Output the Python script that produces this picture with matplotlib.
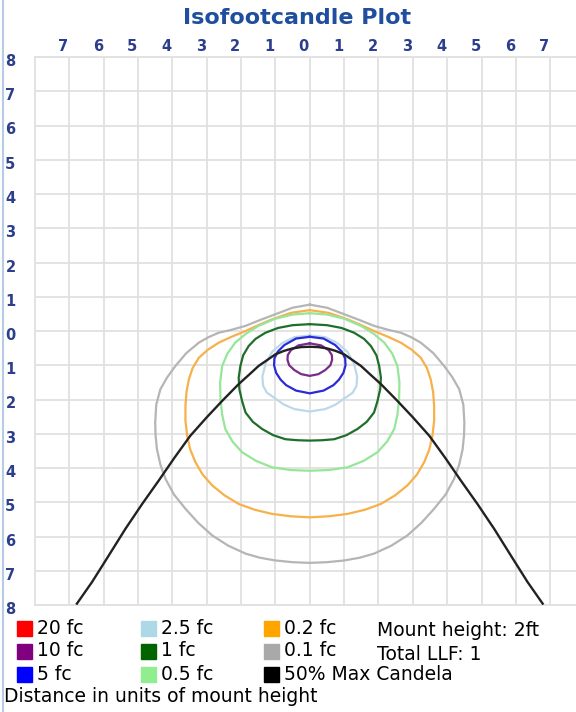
import numpy as np
import matplotlib
matplotlib.use("Agg")
import matplotlib.pyplot as plt
from matplotlib.transforms import ScaledTranslation
from matplotlib.patches import Rectangle
from matplotlib.lines import Line2D

# left half of each isofootcandle contour: (x, distance below luminaire), top centre -> bottom centre
gray_x = [0, -0.5, -1.0, -1.45, -1.87, -2.3, -2.65, -2.95, -3.23, -3.6, -3.91, -4.15, -4.35, -4.47, -4.50,
          -4.49, -4.45, -4.35, -4.20, -3.95, -3.62, -3.25, -2.84, -2.37, -1.87, -1.45, -1.0, -0.5, 0]
gray_d = [-0.77, -0.68, -0.49, -0.32, -0.15, -0.03, 0.05, 0.18, 0.34, 0.65, 1.02, 1.35, 1.70, 2.15, 2.67,
          3.05, 3.45, 3.9, 4.32, 4.78, 5.19, 5.60, 5.97, 6.27, 6.50, 6.62, 6.70, 6.75, 6.77]

orange_x = [0, -0.55, -1.10, -1.5, -1.87, -2.28, -2.65, -2.97, -3.23, -3.41, -3.52, -3.59, -3.62,
            -3.62, -3.57, -3.48, -3.33, -3.12, -2.84, -2.48, -2.07, -1.60, -1.10, -0.55, 0]
orange_d = [-0.61, -0.53, -0.34, -0.17, 0.0, 0.17, 0.34, 0.55, 0.78, 1.08, 1.41, 1.78, 2.18,
            2.62, 3.06, 3.46, 3.83, 4.19, 4.51, 4.80, 5.05, 5.22, 5.34, 5.41, 5.44]

lgreen_x = [0, -0.5, -1.0, -1.49, -1.86, -2.17, -2.40, -2.55, -2.61, -2.60, -2.55, -2.46, -2.25,
            -1.97, -1.57, -1.10, -0.55, 0]
lgreen_d = [-0.52, -0.48, -0.36, -0.15, 0.08, 0.34, 0.66, 1.02, 1.50, 1.99, 2.45, 2.86, 3.23,
            3.54, 3.79, 3.98, 4.06, 4.08]

dgreen_x = [0, -0.5, -0.92, -1.29, -1.58, -1.78, -1.94, -2.02, -2.07, -2.05, -1.97, -1.87, -1.66,
            -1.39, -1.07, -0.71, -0.35, 0]
dgreen_d = [-0.2, -0.17, -0.09, 0.05, 0.23, 0.44, 0.71, 1.02, 1.36, 1.70, 2.05, 2.38, 2.65,
            2.86, 3.04, 3.16, 3.19, 3.20]

lblue_x = [0, -0.45, -0.80, -1.09, -1.28, -1.38, -1.36, -1.25, -0.99, -0.75, -0.45, 0]
lblue_d = [0.13, 0.18, 0.35, 0.60, 0.93, 1.33, 1.60, 1.80, 1.98, 2.15, 2.28, 2.35]

blue_x = [0, -0.4, -0.74, -0.93, -1.03, -1.04, -0.98, -0.85, -0.69, -0.40, 0]
blue_d = [0.17, 0.22, 0.41, 0.60, 0.80, 1.0, 1.22, 1.42, 1.58, 1.74, 1.82]

purple_x = [0, -0.33, -0.55, -0.64, -0.65, -0.60, -0.45, -0.25, 0]
purple_d = [0.36, 0.42, 0.56, 0.70, 0.84, 1.00, 1.14, 1.26, 1.31]

# 50% max candela line, left half
cand_x = [-6.78, -6.34, -5.85, -5.37, -4.88, -4.40, -3.94, -3.48, -3.0, -2.55, -2.07, -1.75, -1.49,
          -1.2, -1.0, -0.75, -0.51, -0.25, 0]
cand_d = [7.96, 7.33, 6.55, 5.78, 5.05, 4.37, 3.70, 3.06, 2.52, 2.04, 1.55, 1.26, 1.02,
          0.82, 0.68, 0.58, 0.51, 0.47, 0.46]

legend_labels = ["20 fc", "10 fc", "5 fc", "2.5 fc", "1 fc", "0.5 fc", "0.2 fc", "0.1 fc", "50% Max Candela"]
legend_colors = ["#ff0000", "#800080", "#0000ff", "#add8e6", "#006400", "#90ee90", "#ffa500", "#a9a9a9", "#000000"]
info_lines = ["Mount height: 2ft", "Total LLF: 1"]

ticks = list(range(-8, 9))

W, H = 576, 712
fig = plt.figure(figsize=(W / 100, H / 100), dpi=100)
ax = fig.add_axes([35 / W, 1 - 605 / H, 541 / W, 548 / H])


def closed(x, d):
    x = np.array(x)
    d = np.array(d)
    return np.concatenate([x, -x[::-1][1:]]), np.concatenate([d, d[::-1][1:]])


contours = [
    (gray_x, gray_d, "#b5b5b5"),
    (orange_x, orange_d, "#f7b04a"),
    (lgreen_x, lgreen_d, "#96e69a"),
    (dgreen_x, dgreen_d, "#1f6e2a"),
    (lblue_x, lblue_d, "#bcd9ea"),
    (blue_x, blue_d, "#2a2ad8"),
    (purple_x, purple_d, "#7a2a8a"),
]
for cx, cd, col in contours:
    xx, dd = closed(cx, cd)
    ax.plot(xx, dd, color=col, lw=1.6, solid_joinstyle="round")

bx = np.concatenate([cand_x, -np.array(cand_x[::-1][1:])])
bd = np.concatenate([cand_d, cand_d[::-1][1:]])
ax.plot(bx, bd, color="#222222", lw=1.7, zorder=5)

ax.set_xlim(-8, 7.75)
ax.set_ylim(8, -8)
ax.set_xticks(ticks[1:-1])
ax.set_yticks(ticks)
ax.set_xticklabels([str(abs(t)) for t in ticks[1:-1]])
ax.set_yticklabels([str(abs(t)) for t in ticks])
ax.xaxis.tick_top()
ax.tick_params(length=0, labelsize=10.5, labelcolor="#2c3e8c")
ax.tick_params(axis="x", pad=2)
ax.tick_params(axis="y", pad=14)
for lbl in ax.get_xticklabels() + ax.get_yticklabels():
    lbl.set_fontweight("bold")
for lbl in ax.get_xticklabels():
    lbl.set_transform(lbl.get_transform() + ScaledTranslation(-6 / 100, 0, fig.dpi_scale_trans))
for lbl in ax.get_yticklabels():
    lbl.set_transform(lbl.get_transform() + ScaledTranslation(0, -3 / 100, fig.dpi_scale_trans))
ax.grid(True, color="#e0e0e0", lw=1.3)
ax.set_axisbelow(True)
for s in ax.spines.values():
    s.set_color("#e0e0e0")
    s.set_linewidth(1.3)
ax.spines["right"].set_visible(False)

fig.text(297 / W, 1 - 18 / H, "Isofootcandle Plot", ha="center", va="center",
         fontsize=16, fontweight="bold", color="#1f4e9e")

# window border on the left
fig.add_artist(Line2D([3 / W, 3 / W], [0, 1], color="#b8cbe6", lw=1.5))

# legend
col_x = [17, 141, 264]
row_y = [628, 651, 674]
for i, (lab, col) in enumerate(zip(legend_labels, legend_colors)):
    cx = col_x[i // 3]
    ry = row_y[i % 3]
    fig.add_artist(Rectangle((cx / W, 1 - (ry + 8) / H), 15 / W, 15 / H, color=col,
                             transform=fig.transFigure))
    fig.text((cx + 20) / W, 1 - ry / H, lab, ha="left", va="center", fontsize=13.5, color="black")
for j, t in enumerate(info_lines):
    fig.text(377 / W, 1 - (row_y[j] + 3) / H, t, ha="left", va="center", fontsize=13.5, color="black")
fig.text(4 / W, 1 - 697 / H, "Distance in units of mount height", ha="left", va="center",
         fontsize=13.5, color="black")

fig.savefig("out.png", dpi=100, facecolor="white")
